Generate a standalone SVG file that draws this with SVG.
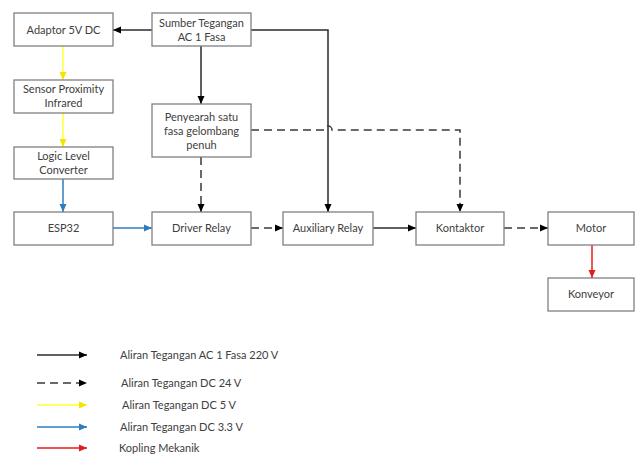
<svg xmlns="http://www.w3.org/2000/svg" width="635" height="458" viewBox="0 0 635 458">
<defs>
<style>
.box{fill:#fff;stroke:#808080;stroke-width:1.3}
.t{font-family:Lato,"Open Sans","Liberation Sans",sans-serif;font-size:11px;fill:#404040;text-anchor:middle}
.lt{font-family:Lato,"Open Sans","Liberation Sans",sans-serif;font-size:11px;fill:#404040}
.k{stroke:#2b2b2b;stroke-width:1.5;fill:none}
.d{stroke:#3a3a3a;stroke-width:1.5;fill:none;stroke-dasharray:8 5}
.y{stroke:#ffff33;stroke-width:1.5;fill:none}
.b{stroke:#2e7dbf;stroke-width:1.5;fill:none}
.r{stroke:#e01e1e;stroke-width:1.5;fill:none}
</style>
<marker id="ak" markerWidth="8" markerHeight="8" refX="8" refY="4" orient="auto" markerUnits="userSpaceOnUse"><path d="M0,0.5 L8,4 L0,7.5 Z" fill="#000"/></marker>
<marker id="ay" markerWidth="8" markerHeight="8" refX="8" refY="4" orient="auto" markerUnits="userSpaceOnUse"><path d="M0,0.5 L8,4 L0,7.5 Z" fill="#f2e600"/></marker>
<marker id="ab" markerWidth="8" markerHeight="8" refX="8" refY="4" orient="auto" markerUnits="userSpaceOnUse"><path d="M0,0.5 L8,4 L0,7.5 Z" fill="#2e7dbf"/></marker>
<marker id="ar" markerWidth="8" markerHeight="8" refX="8" refY="4" orient="auto" markerUnits="userSpaceOnUse"><path d="M0,0.5 L8,4 L0,7.5 Z" fill="#e01e1e"/></marker>
</defs>
<rect width="635" height="458" fill="#fff"/>
<g id="connectors">
<path class="k" d="M152,30 L113,30" marker-end="url(#ak)"/>
<path class="k" d="M251,30 L328,30 L328,212" marker-end="url(#ak)"/>
<path class="k" d="M201,46 L201,104" marker-end="url(#ak)"/>
<path class="d" d="M251,130 L324,130 A4,4 0 0 1 332,130 L460,130 L460,212" marker-end="url(#ak)"/>
<path class="d" d="M201,157 L201,212" marker-end="url(#ak)"/>
<path class="y" d="M63,46 L63,80" marker-end="url(#ay)"/>
<path class="y" d="M63,113 L63,147" marker-end="url(#ay)"/>
<path class="b" d="M63,179 L63,212" marker-end="url(#ab)"/>
<path class="b" d="M113,228 L152,228" marker-end="url(#ab)"/>
<path class="d" d="M251,228 L283,228" marker-end="url(#ak)"/>
<path class="k" d="M373,228 L416,228" marker-end="url(#ak)"/>
<path class="d" d="M504,228 L548,228" marker-end="url(#ak)"/>
<path class="r" d="M592,245 L592,278" marker-end="url(#ar)"/>
</g>
<g id="adaptor"><rect class="box" x="14" y="13" width="99" height="33"/><text class="t" x="63.5" y="33.5">Adaptor 5V DC</text></g>
<g id="sumber"><rect class="box" x="152" y="13" width="99" height="33"/><text class="t" x="201.5" y="26.5">Sumber Tegangan</text><text class="t" x="201.5" y="40.5">AC 1 Fasa</text></g>
<g id="sensor"><rect class="box" x="14" y="80" width="99" height="33"/><text class="t" x="63.5" y="93">Sensor Proximity</text><text class="t" x="63.5" y="107">Infrared</text></g>
<g id="logic"><rect class="box" x="14" y="147" width="99" height="32"/><text class="t" x="63.5" y="159.5">Logic Level</text><text class="t" x="63.5" y="173.5">Converter</text></g>
<g id="penyearah"><rect class="box" x="152" y="104" width="99" height="53"/><text class="t" x="201.5" y="121">Penyearah satu</text><text class="t" x="201.5" y="135">fasa gelombang</text><text class="t" x="201.5" y="149">penuh</text></g>
<g id="esp32"><rect class="box" x="14" y="212" width="99" height="33"/><text class="t" x="63.5" y="232">ESP32</text></g>
<g id="driver"><rect class="box" x="152" y="212" width="99" height="33"/><text class="t" x="201.5" y="232">Driver Relay</text></g>
<g id="auxiliary"><rect class="box" x="283" y="212" width="90" height="33"/><text class="t" x="328" y="232">Auxiliary Relay</text></g>
<g id="kontaktor"><rect class="box" x="416" y="212" width="88" height="33"/><text class="t" x="460" y="232">Kontaktor</text></g>
<g id="motor"><rect class="box" x="548" y="212" width="86" height="33"/><text class="t" x="591" y="232">Motor</text></g>
<g id="konveyor"><rect class="box" x="548" y="278" width="86" height="33"/><text class="t" x="591" y="298">Konveyor</text></g>
<g id="legend">
<path class="k" d="M37,355 L87,355" marker-end="url(#ak)"/>
<path class="d" d="M37,383 L87,383" stroke-dasharray="9 5" marker-end="url(#ak)"/>
<path class="y" d="M37,405 L87,405" marker-end="url(#ay)"/>
<path class="b" d="M37,427 L87,427" marker-end="url(#ab)"/>
<path class="r" d="M37,448 L87,448" marker-end="url(#ar)"/>
<text class="lt" x="120" y="359">Aliran Tegangan AC 1 Fasa 220 V</text>
<text class="lt" x="121" y="387">Aliran Tegangan DC 24 V</text>
<text class="lt" x="122" y="409">Aliran Tegangan DC 5 V</text>
<text class="lt" x="120" y="431">Aliran Tegangan DC 3.3 V</text>
<text class="lt" x="119" y="452">Kopling Mekanik</text>
</g>
</svg>
